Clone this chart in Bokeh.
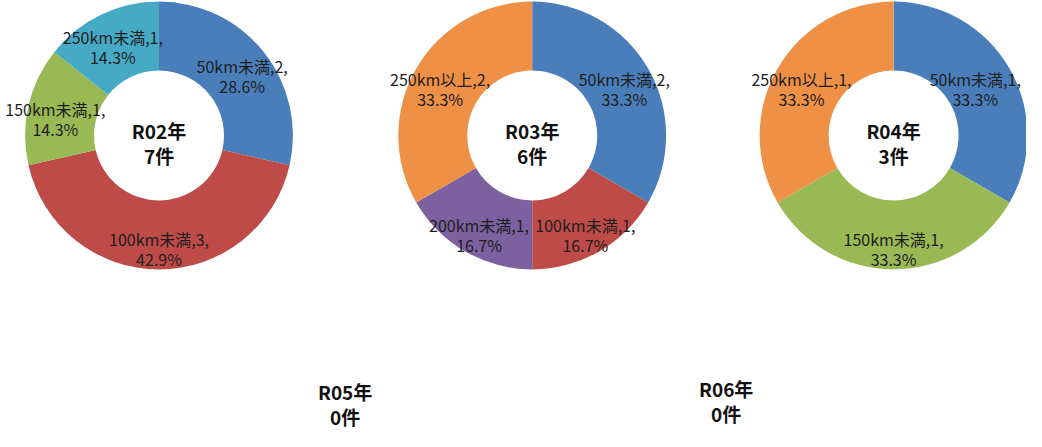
import math
from bokeh.plotting import figure
from bokeh.models import Range1d, ColumnDataSource
from bokeh.core.properties import value
from bokeh.embed import file_html
from bokeh.resources import INLINE

# ---- data ----
categories = ["50km未満", "100km未満", "150km未満", "200km未満", "250km未満", "250km以上"]
years = ["R02年", "R03年", "R04年", "R05年", "R06年"]
r02 = [2, 3, 1, 0, 1, 0]
r03 = [2, 1, 0, 1, 0, 2]
r04 = [1, 0, 1, 0, 0, 1]
r05 = [0, 0, 0, 0, 0, 0]
r06 = [0, 0, 0, 0, 0, 0]
series = [r02, r03, r04, r05, r06]
colors = ["#4A7EBB", "#BE4B48", "#98B954", "#7D60A0", "#46AAC5", "#EE9045"]

# ---- layout (reference pixel space) ----
W, H = 1026, 431
REF_W, REF_H = 1042, 447
centers = [(161, 140), (540, 140), (907, 140), (350, 411), (737, 408)]
R_OUT, R_IN = 136, 66
R_LABEL = 108
LABEL_PX = 16
sx, sy = W / REF_W, H / REF_H

FONT = value("Noto Sans CJK JP")


def est_width(s, px):
    w = 0.0
    for ch in s:
        if ord(ch) > 0x2E80:
            w += px
        elif ch in ",.":
            w += px * 0.26
        elif ch == "m":
            w += px * 0.85
        else:
            w += px * 0.57
    return w


p = figure(width=W, height=H, output_backend="svg", toolbar_location=None,
           x_range=Range1d(0, REF_W), y_range=Range1d(-REF_H, 0),
           min_border=0, outline_line_color=None)
p.axis.visible = False
p.grid.visible = False
p.background_fill_color = "white"
p.border_fill_color = "white"

wx, wy, ws, we, wc = [], [], [], [], []
lx, ly, l1, l2 = [], [], [], []
cx_l, cy_l, c1, c2 = [], [], [], []

for yr, vals, (cx, cy) in zip(years, series, centers):
    total = sum(vals)
    cx_l.append(cx)
    cy_l.append(-cy)
    c1.append(yr)
    c2.append(f"{total}件")
    if total == 0:
        continue
    cum = 0.0
    for cat, v, col in zip(categories, vals, colors):
        if v == 0:
            continue
        f0 = cum / total
        f1 = (cum + v) / total
        cum += v
        wx.append(cx)
        wy.append(-cy)
        ws.append(math.pi / 2 - 2 * math.pi * f1)
        we.append(math.pi / 2 - 2 * math.pi * f0)
        wc.append(col)
        mid = 2 * math.pi * (f0 + f1) / 2
        t1 = f"{cat},{v},"
        x = cx + R_LABEL * math.sin(mid)
        half = est_width(t1, LABEL_PX) / 2 / sx
        x = min(x, REF_W - half - 6 / sx)
        lx.append(x)
        ly.append(-cy + R_LABEL * math.cos(mid) * sx / sy)
        l1.append(t1)
        l2.append(f"{v / total * 100:.1f}%")

wsrc = ColumnDataSource(dict(x=wx, y=wy, s=ws, e=we, c=wc))
p.annular_wedge(x="x", y="y", inner_radius=R_IN, outer_radius=R_OUT,
                start_angle="s", end_angle="e", fill_color="c",
                line_color=None, source=wsrc)

lsrc = ColumnDataSource(dict(x=lx, y=ly, t1=l1, t2=l2))
common = dict(text_align="center", text_baseline="middle", text_font=FONT,
              text_font_size=f"{LABEL_PX}px", text_color="#1E1E1E", source=lsrc)
p.text(x="x", y="y", text="t1", y_offset=-3, **common)
p.text(x="x", y="y", text="t2", y_offset=17, **common)

csrc = ColumnDataSource(dict(x=cx_l, y=cy_l, t1=c1, t2=c2))
ccommon = dict(text_align="center", text_baseline="middle", text_font=FONT,
               text_font_size="19px", text_font_style="bold",
               text_color="#111111", source=csrc)
p.text(x="x", y="y", text="t1", y_offset=-5, **ccommon)
p.text(x="x", y="y", text="t2", y_offset=20, **ccommon)

open("out.html", "w").write(file_html(p, INLINE))
